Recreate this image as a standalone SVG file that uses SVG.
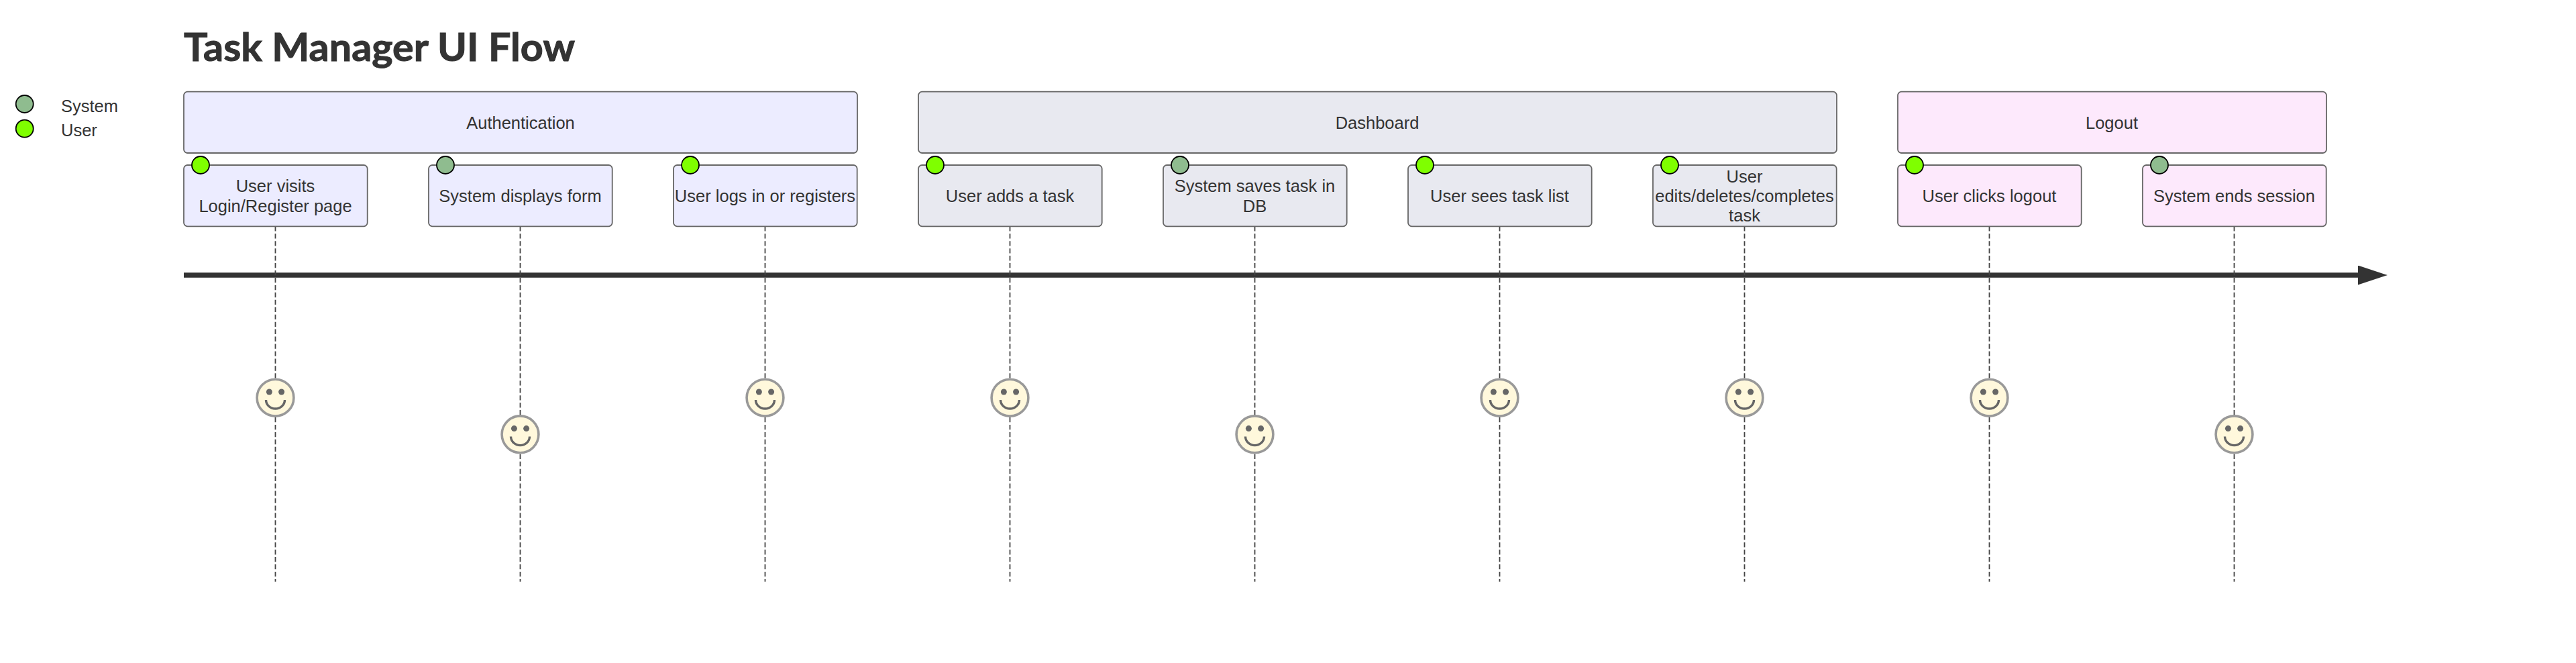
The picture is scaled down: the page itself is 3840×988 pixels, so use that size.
<svg xmlns="http://www.w3.org/2000/svg" width="3840" height="988" viewBox="0 0 3840 988">
<style>
text{font-family:"Liberation Sans",Arial,sans-serif;font-size:25.5px;fill:#333;text-anchor:middle}
.title{font-family:"Lato","Noto Sans",sans-serif;font-weight:700;font-size:57px;text-anchor:start;stroke:#333;stroke-width:1}
.leg{text-anchor:start}
.box{stroke:#666;stroke-width:1.8}
.a{fill:#ECECFF}.d{fill:#E8E9F0}.l{fill:#FDE9FC}
.u{fill:#7FFF00;stroke:#000;stroke-width:1.8}
.s{fill:#8FBC8F;stroke:#000;stroke-width:1.8}
.dash{stroke:#444;stroke-width:1.8;stroke-dasharray:7.3 3.65;fill:none}
.face{fill:#FFF8DC;stroke:#999;stroke-width:3.6}
.eye{fill:#666}
.smile{fill:none;stroke:#666;stroke-width:3.4}
</style>
<defs>
<marker id="arrow" markerUnits="userSpaceOnUse" markerWidth="44" markerHeight="30" refX="0" refY="14.5" orient="auto"><path d="M0 0L44 14.5L0 29Z" fill="#333"/></marker>
<g id="smiley"><circle class="face" r="27.4"/><circle class="eye" cx="-9.1" cy="-8.7" r="4.5"/><circle class="eye" cx="9.1" cy="-8.7" r="4.5"/><path class="smile" d="M-14 3.3A14 13 0 0 0 14 3.3"/></g>
</defs>
<text class="title" x="274" y="91" textLength="583" lengthAdjust="spacingAndGlyphs">Task Manager UI Flow</text>
<g id="legend">
<circle class="s" cx="36.7" cy="155" r="13"/><text class="leg" x="91" y="167">System</text>
<circle class="u" cx="36.7" cy="191.7" r="13"/><text class="leg" x="91" y="203">User</text>
</g>
<g id="connectors">
<line x1="274" y1="410" x2="3515" y2="410" stroke="#333" stroke-width="7.3" marker-end="url(#arrow)"/>
<path class="dash" d="M410.5 337.3V866.7M775.5 337.3V866.7M1140.5 337.3V866.7M1505.5 337.3V866.7M1870.5 337.3V866.7M2235.5 337.3V866.7M2600.5 337.3V866.7M2965.5 337.3V866.7M3330.5 337.3V866.7"/>
</g>
<g id="section-authentication"><rect class="box a" x="274" y="136.7" width="1004" height="91.3" rx="5.5"/><text x="776" y="191.5">Authentication</text></g>
<g id="section-dashboard"><rect class="box d" x="1369" y="136.7" width="1369" height="91.3" rx="5.5"/><text x="2053" y="191.5">Dashboard</text></g>
<g id="section-logout"><rect class="box l" x="2829" y="136.7" width="639" height="91.3" rx="5.5"/><text x="3148" y="191.5">Logout</text></g>
<g id="task-1"><rect class="box a" x="274" y="246" width="273.7" height="91.3" rx="5.5"/><circle class="u" cx="299" cy="246" r="13"/><text x="410.5" y="286">User visits</text><text x="410.5" y="316">Login/Register page</text><use href="#smiley" x="410.5" y="592.7"/></g>
<g id="task-2"><rect class="box a" x="639" y="246" width="273.7" height="91.3" rx="5.5"/><circle class="s" cx="664" cy="246" r="13"/><text x="775.5" y="301">System displays form</text><use href="#smiley" x="775.5" y="647.3"/></g>
<g id="task-3"><rect class="box a" x="1004" y="246" width="273.7" height="91.3" rx="5.5"/><circle class="u" cx="1029" cy="246" r="13"/><text x="1140.5" y="301">User logs in or registers</text><use href="#smiley" x="1140.5" y="592.7"/></g>
<g id="task-4"><rect class="box d" x="1369" y="246" width="273.7" height="91.3" rx="5.5"/><circle class="u" cx="1394" cy="246" r="13"/><text x="1505.5" y="301">User adds a task</text><use href="#smiley" x="1505.5" y="592.7"/></g>
<g id="task-5"><rect class="box d" x="1734" y="246" width="273.7" height="91.3" rx="5.5"/><circle class="s" cx="1759" cy="246" r="13"/><text x="1870.5" y="286">System saves task in</text><text x="1870.5" y="316">DB</text><use href="#smiley" x="1870.5" y="647.3"/></g>
<g id="task-6"><rect class="box d" x="2099" y="246" width="273.7" height="91.3" rx="5.5"/><circle class="u" cx="2124" cy="246" r="13"/><text x="2235.5" y="301">User sees task list</text><use href="#smiley" x="2235.5" y="592.7"/></g>
<g id="task-7"><rect class="box d" x="2464" y="246" width="273.7" height="91.3" rx="5.5"/><circle class="u" cx="2489" cy="246" r="13"/><text x="2600.5" y="272">User</text><text x="2600.5" y="301">edits/deletes/completes</text><text x="2600.5" y="330">task</text><use href="#smiley" x="2600.5" y="592.7"/></g>
<g id="task-8"><rect class="box l" x="2829" y="246" width="273.7" height="91.3" rx="5.5"/><circle class="u" cx="2854" cy="246" r="13"/><text x="2965.5" y="301">User clicks logout</text><use href="#smiley" x="2965.5" y="592.7"/></g>
<g id="task-9"><rect class="box l" x="3194" y="246" width="273.7" height="91.3" rx="5.5"/><circle class="s" cx="3219" cy="246" r="13"/><text x="3330.5" y="301">System ends session</text><use href="#smiley" x="3330.5" y="647.3"/></g>
</svg>
